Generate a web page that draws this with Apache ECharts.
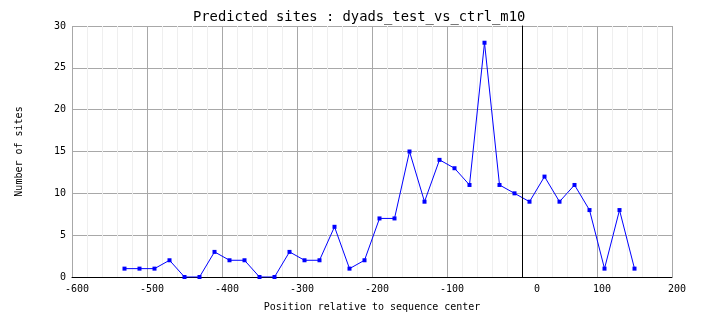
<!DOCTYPE html>
<html>
<head>
<meta charset="utf-8">
<script src="https://cdn.jsdelivr.net/npm/echarts@6/dist/echarts.min.js"></script>
<style>html,body{margin:0;padding:0;background:#fff;}#c{width:704px;height:328px;}</style>
</head>
<body>
<div id="c"></div>
<script>
const titleText = "Predicted sites : dyads_test_vs_ctrl_m10";
const xAxisTitle = "Position relative to sequence center";
const yAxisTitle = "Number of sites";
const positions = [-530,-510,-490,-470,-450,-430,-410,-390,-370,-350,-330,-310,-290,-270,-250,-230,-210,-190,-170,-150,-130,-110,-90,-70,-50,-30,-10,10,30,50,70,90,110,130,150];
const siteCounts = [1,1,1,2,0,0,3,2,2,0,0,3,2,2,6,1,2,7,7,15,9,14,13,11,28,11,10,9,12,9,11,8,1,8,1];
const xTicks = [-600,-500,-400,-300,-200,-100,0,100,200];
const yTicks = [0,5,10,15,20,25,30];
const centerLine = [0];

const font = "'DejaVu Sans Mono', 'Liberation Mono', monospace";
const chart = echarts.init(document.getElementById('c'), null, {renderer: 'canvas'});
chart.setOption({
  animation: false,
  backgroundColor: '#ffffff',
  title: {
    text: titleText, left: 188, top: 5,
    textStyle: {fontFamily: font, fontSize: 13.8, fontWeight: 'normal', color: '#000'}
  },
  grid: {left: 72, right: 32, top: 26, bottom: 51, containLabel: false},
  xAxis: {
    type: 'value', min: xTicks[0], max: xTicks[xTicks.length-1], interval: 100,
    name: xAxisTitle, nameLocation: 'middle', nameGap: 25,
    nameTextStyle: {fontFamily: font, fontSize: 10, color: '#000'},
    axisLine: {onZero: false, lineStyle: {color: '#000', width: 1}},
    axisTick: {show: false},
    minorTick: {show: false, splitNumber: 5},
    minorSplitLine: {show: true, lineStyle: {color: '#efefef', width: 1}},
    splitLine: {show: true, lineStyle: {color: '#a8a8a8', width: 1}},
    axisLabel: {
      fontFamily: font, fontSize: 10, color: '#000', margin: 7,
      formatter: function(v){ return v === 0 ? '{z|0}' : '{n|' + v + '}'; },
      rich: {
        z: {fontFamily: font, fontSize: 10, color: '#000', padding: [0,0,0,30]},
        n: {fontFamily: font, fontSize: 10, color: '#000', padding: [0,0,0,10]}
      }
    }
  },
  yAxis: {
    type: 'value', min: yTicks[0], max: yTicks[yTicks.length-1], interval: 5,
    name: yAxisTitle, nameLocation: 'middle', nameGap: 48, nameRotate: 90,
    nameTextStyle: {fontFamily: font, fontSize: 10, color: '#000'},
    axisLine: {show: true, lineStyle: {color: '#000', width: 1}},
    axisTick: {show: false},
    splitLine: {show: true, lineStyle: {color: '#a8a8a8', width: 1}},
    axisLabel: {fontFamily: font, fontSize: 10, color: '#000', margin: 6, padding: [4,0,0,0]}
  },
  series: [{
    type: 'line',
    data: positions.map((p, i) => [p, siteCounts[i]]),
    symbol: 'rect', symbolSize: 4, showSymbol: true,
    lineStyle: {color: '#0000ff', width: 1},
    itemStyle: {color: '#0000ff'},
    z: 2
  }, {
    type: 'custom',
    z: 5,
    silent: true,
    data: centerLine.map(v => [v]),
    renderItem: function(params, api){
      const x = Math.round(api.coord([api.value(0), yTicks[0]])[0]) + 0.5;
      const y0 = api.coord([api.value(0), yTicks[0]])[1];
      const y1 = api.coord([api.value(0), yTicks[yTicks.length-1]])[1];
      return {type: 'line', shape: {x1: x, y1: y0, x2: x, y2: y1}, style: {stroke: '#000', lineWidth: 1}};
    }
  }]
});
</script>
</body>
</html>
